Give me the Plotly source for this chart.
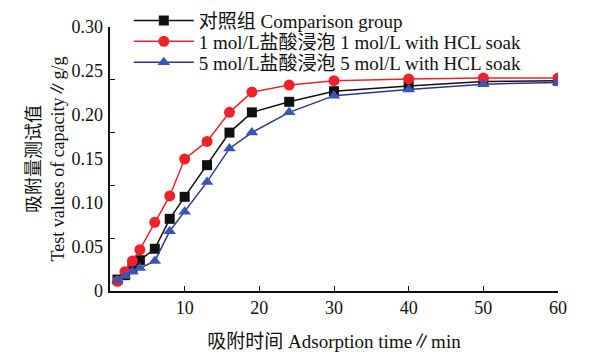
import plotly.graph_objects as go

time_min = [1, 2, 3, 4, 6, 8, 10, 13, 16, 19, 24, 30, 40, 50, 60]
control = [0.013, 0.018, 0.026, 0.035, 0.048, 0.082, 0.107, 0.143, 0.180, 0.203, 0.215, 0.227, 0.233, 0.238, 0.239]
hcl_1 = [0.011, 0.022, 0.034, 0.047, 0.078, 0.108, 0.150, 0.170, 0.203, 0.226, 0.234, 0.239, 0.241, 0.242, 0.242]
hcl_5 = [0.012, 0.017, 0.022, 0.026, 0.034, 0.068, 0.090, 0.124, 0.162, 0.180, 0.203, 0.222, 0.229, 0.235, 0.237]

names = ["对照组 Comparison group",
         "1 mol/L盐酸浸泡 1 mol/L with HCL soak",
         "5 mol/L盐酸浸泡 5 mol/L with HCL soak"]

y_label_vals = [0, 0.05, 0.10, 0.15, 0.20, 0.25, 0.30]
y_label_text = ["0", "0.05", "0.10", "0.15", "0.20", "0.25", "0.30"]
y_tick_vals = [0, 0.06, 0.12, 0.18, 0.24, 0.30]
x_tick_vals = [10, 20, 30, 40, 50, 60]

FONT = "Liberation Serif, Noto Sans CJK SC, serif"

fig = go.Figure()
fig.add_trace(go.Scatter(x=time_min, y=control, name=names[0], mode="lines+markers",
                         legend="legend",
                         line=dict(color="#111111", width=1.5),
                         marker=dict(symbol="square", size=10, color="#111111")))
fig.add_trace(go.Scatter(x=time_min, y=hcl_1, name=names[1], mode="lines+markers",
                         legend="legend2",
                         line=dict(color="#ee2228", width=1.5),
                         marker=dict(symbol="circle", size=11, color="#ee2228")))
fig.add_trace(go.Scatter(x=time_min, y=hcl_5, name=names[2], mode="lines+markers",
                         legend="legend3",
                         line=dict(color="#2a3592", width=1.5),
                         marker=dict(symbol="triangle-up", size=11, color="#3657b8")))
# invisible trace to activate label axis
fig.add_trace(go.Scatter(x=[None], y=[None], yaxis="y2", showlegend=False, hoverinfo="skip"))

leg_common = dict(x=0.042, xanchor="left", yanchor="middle",
                  bgcolor="rgba(0,0,0,0)", font=dict(size=19, family=FONT),
                  itemwidth=60)

fig.update_layout(
    width=603, height=347,
    margin=dict(l=102, r=53, t=18.5, b=63.5, autoexpand=False),
    paper_bgcolor="white", plot_bgcolor="white",
    font=dict(family=FONT, size=18, color="#111111"),
    showlegend=True,
    legend=dict(y=1.0245, **leg_common),
    legend2=dict(y=0.945, **leg_common),
    legend3=dict(y=0.866, **leg_common),
    xaxis=dict(range=[0, 60], tickvals=x_tick_vals, ticks="inside", ticklen=5,
               tickwidth=1.2, tickcolor="#111111", automargin=False,
               showline=True, linecolor="#111111", linewidth=1.5,
               showgrid=False, zeroline=False,
               tickfont=dict(size=18),
               title=dict(text="吸附时间 Adsorption time∥min", font=dict(size=19), standoff=17)),
    yaxis=dict(range=[0, 0.30], tickvals=y_tick_vals, ticks="inside", ticklen=5,
               tickwidth=1.2, tickcolor="#111111", showticklabels=False, automargin=False,
               showline=True, linecolor="#111111", linewidth=1.5,
               showgrid=False, zeroline=False),
    yaxis2=dict(range=[0, 0.30], overlaying="y", side="left", automargin=False,
                tickvals=y_label_vals, ticktext=y_label_text, ticks="",
                showline=False, showgrid=False, zeroline=False,
                tickfont=dict(size=18), ticklabelstandoff=6,
                title=dict(text="吸附量测试值<br>Test values of capacity∥g/g",
                           font=dict(size=18), standoff=2)),
)

fig.write_html("out.html")
